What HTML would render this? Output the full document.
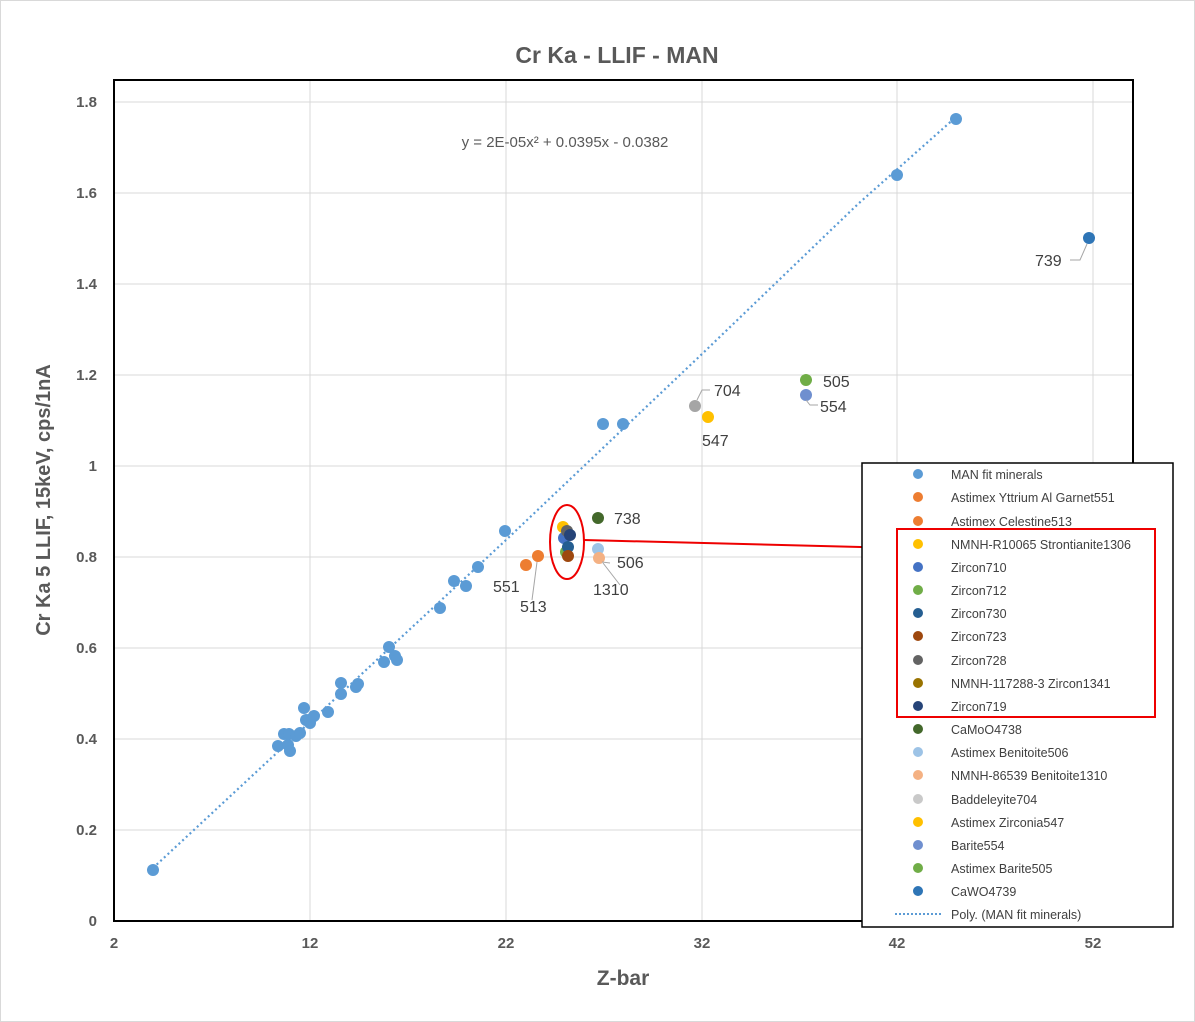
<!DOCTYPE html><html><head><meta charset="utf-8"><style>body{margin:0;background:#fff}svg{display:block;font-family:"Liberation Sans",sans-serif}</style></head><body>
<svg width="1195" height="1022" viewBox="0 0 1195 1022">
<rect x="0.5" y="0.5" width="1194" height="1021" fill="#fff" stroke="#d9d9d9"/>
<text x="617" y="63" text-anchor="middle" font-size="23" font-weight="bold" fill="#595959">Cr Ka - LLIF - MAN</text>
<g stroke="#d9d9d9" stroke-width="1">
<line x1="114" y1="102" x2="1133" y2="102"/><line x1="114" y1="193" x2="1133" y2="193"/><line x1="114" y1="284" x2="1133" y2="284"/><line x1="114" y1="375" x2="1133" y2="375"/><line x1="114" y1="466" x2="1133" y2="466"/><line x1="114" y1="557" x2="1133" y2="557"/><line x1="114" y1="648" x2="1133" y2="648"/><line x1="114" y1="739" x2="1133" y2="739"/><line x1="114" y1="830" x2="1133" y2="830"/>
<line x1="310" y1="80" x2="310" y2="921"/><line x1="506" y1="80" x2="506" y2="921"/><line x1="702" y1="80" x2="702" y2="921"/><line x1="897" y1="80" x2="897" y2="921"/><line x1="1093" y1="80" x2="1093" y2="921"/>
</g>
<rect x="114" y="80" width="1019" height="841" fill="none" stroke="#000" stroke-width="2"/>
<g font-size="15" font-weight="bold" fill="#595959" text-anchor="end">
<text x="97" y="107">1.8</text><text x="97" y="198">1.6</text><text x="97" y="289">1.4</text><text x="97" y="380">1.2</text><text x="97" y="471">1</text><text x="97" y="562">0.8</text><text x="97" y="653">0.6</text><text x="97" y="744">0.4</text><text x="97" y="835">0.2</text><text x="97" y="926">0</text></g>
<g font-size="15" font-weight="bold" fill="#595959" text-anchor="middle">
<text x="114" y="948">2</text><text x="310" y="948">12</text><text x="506" y="948">22</text><text x="702" y="948">32</text><text x="897" y="948">42</text><text x="1093" y="948">52</text></g>
<text x="623" y="985" text-anchor="middle" font-size="21" font-weight="bold" fill="#595959">Z-bar</text>
<text transform="translate(50,500) rotate(-90)" text-anchor="middle" font-size="20" font-weight="bold" fill="#595959">Cr Ka 5 LLIF, 15keV, cps/1nA</text>
<text x="565" y="147" text-anchor="middle" font-size="15" fill="#595959">y = 2E-05x² + 0.0395x - 0.0382</text>
<polyline fill="none" stroke="#5b9bd5" stroke-width="2.2" stroke-dasharray="2 3" points="153,868 310,722 506,540 702,354 858,204 956,117"/>
<g fill="#5b9bd5">
<circle cx="153" cy="870" r="6"/><circle cx="278" cy="746" r="6"/><circle cx="284" cy="734" r="6"/><circle cx="288" cy="745" r="6"/><circle cx="289" cy="734" r="6"/><circle cx="290" cy="751" r="6"/><circle cx="296" cy="736" r="6"/><circle cx="300" cy="733" r="6"/><circle cx="304" cy="708" r="6"/><circle cx="306" cy="720" r="6"/><circle cx="309" cy="720" r="6"/><circle cx="310" cy="723" r="6"/><circle cx="314" cy="716" r="6"/><circle cx="328" cy="712" r="6"/><circle cx="341" cy="683" r="6"/><circle cx="341" cy="694" r="6"/><circle cx="356" cy="687" r="6"/><circle cx="358" cy="684" r="6"/><circle cx="384" cy="662" r="6"/><circle cx="389" cy="647" r="6"/><circle cx="395" cy="656" r="6"/><circle cx="397" cy="660" r="6"/><circle cx="440" cy="608" r="6"/><circle cx="454" cy="581" r="6"/><circle cx="466" cy="586" r="6"/><circle cx="478" cy="567" r="6"/><circle cx="505" cy="531" r="6"/><circle cx="603" cy="424" r="6"/><circle cx="623" cy="424" r="6"/><circle cx="897" cy="175" r="6"/><circle cx="956" cy="119" r="6"/></g>
<circle cx="526" cy="565" r="6" fill="#ed7d31"/><circle cx="538" cy="556" r="6" fill="#ed7d31"/>
<circle cx="563" cy="527" r="6" fill="#ffc000"/><circle cx="564" cy="538" r="6" fill="#4472c4"/><circle cx="566" cy="552" r="6" fill="#70ad47"/><circle cx="568" cy="547" r="6" fill="#255e91"/><circle cx="567" cy="531" r="6" fill="#636363"/><circle cx="568" cy="556" r="6" fill="#9e480e"/><circle cx="570" cy="535" r="6" fill="#264478"/>
<circle cx="598" cy="518" r="6" fill="#43682b"/><circle cx="598" cy="549" r="6" fill="#9dc3e6"/><circle cx="599" cy="558" r="6" fill="#f4b183"/>
<circle cx="695" cy="406" r="6" fill="#a5a5a5"/><circle cx="708" cy="417" r="6" fill="#ffc000"/><circle cx="806" cy="380" r="6" fill="#70ad47"/><circle cx="806" cy="395" r="6" fill="#6f8fcf"/><circle cx="1089" cy="238" r="6" fill="#2e75b6"/>
<g stroke="#a6a6a6" fill="none"><polyline points="1070,260 1080,260 1087,244"/><polyline points="697,400 702,390 710,390"/><line x1="532" y1="600" x2="537" y2="562"/><polyline points="602,562 610,563"/><polyline points="603,563 620,585"/><polyline points="806,400 810,405 818,405"/></g>
<g font-size="16" fill="#404040"><text x="1035" y="266">739</text><text x="714" y="396">704</text><text x="702" y="446">547</text><text x="823" y="387">505</text><text x="820" y="412">554</text><text x="614" y="524">738</text><text x="617" y="568">506</text><text x="593" y="595">1310</text><text x="493" y="592">551</text><text x="520" y="612">513</text></g>
<ellipse cx="567" cy="542" rx="17" ry="37" fill="none" stroke="#e00" stroke-width="2"/>
<line x1="584" y1="540" x2="898" y2="548" stroke="#e00" stroke-width="2"/>
<rect x="862" y="463" width="311" height="464" fill="#fff" stroke="#000" stroke-width="1.5"/>
<g font-size="12.5" fill="#404040">
<circle cx="918" cy="474" r="5" fill="#5b9bd5"/><text x="951" y="479">MAN fit minerals</text>
<circle cx="918" cy="497" r="5" fill="#ed7d31"/><text x="951" y="502">Astimex Yttrium Al Garnet551</text>
<circle cx="918" cy="521" r="5" fill="#ed7d31"/><text x="951" y="526">Astimex Celestine513</text>
<circle cx="918" cy="544" r="5" fill="#ffc000"/><text x="951" y="549">NMNH-R10065 Strontianite1306</text>
<circle cx="918" cy="567" r="5" fill="#4472c4"/><text x="951" y="572">Zircon710</text>
<circle cx="918" cy="590" r="5" fill="#70ad47"/><text x="951" y="595">Zircon712</text>
<circle cx="918" cy="613" r="5" fill="#255e91"/><text x="951" y="618">Zircon730</text>
<circle cx="918" cy="636" r="5" fill="#9e480e"/><text x="951" y="641">Zircon723</text>
<circle cx="918" cy="660" r="5" fill="#636363"/><text x="951" y="665">Zircon728</text>
<circle cx="918" cy="683" r="5" fill="#997300"/><text x="951" y="688">NMNH-117288-3 Zircon1341</text>
<circle cx="918" cy="706" r="5" fill="#264478"/><text x="951" y="711">Zircon719</text>
<circle cx="918" cy="729" r="5" fill="#43682b"/><text x="951" y="734">CaMoO4738</text>
<circle cx="918" cy="752" r="5" fill="#9dc3e6"/><text x="951" y="757">Astimex Benitoite506</text>
<circle cx="918" cy="775" r="5" fill="#f4b183"/><text x="951" y="780">NMNH-86539 Benitoite1310</text>
<circle cx="918" cy="799" r="5" fill="#c9c9c9"/><text x="951" y="804">Baddeleyite704</text>
<circle cx="918" cy="822" r="5" fill="#ffc000"/><text x="951" y="827">Astimex Zirconia547</text>
<circle cx="918" cy="845" r="5" fill="#6f8fcf"/><text x="951" y="850">Barite554</text>
<circle cx="918" cy="868" r="5" fill="#70ad47"/><text x="951" y="873">Astimex Barite505</text>
<circle cx="918" cy="891" r="5" fill="#2e75b6"/><text x="951" y="896">CaWO4739</text>
<line x1="895" y1="914" x2="942" y2="914" stroke="#5b9bd5" stroke-width="2" stroke-dasharray="2 2"/><text x="951" y="919">Poly. (MAN fit minerals)</text>
</g>
<rect x="897" y="529" width="258" height="188" fill="none" stroke="#e00" stroke-width="2"/>
</svg></body></html>
